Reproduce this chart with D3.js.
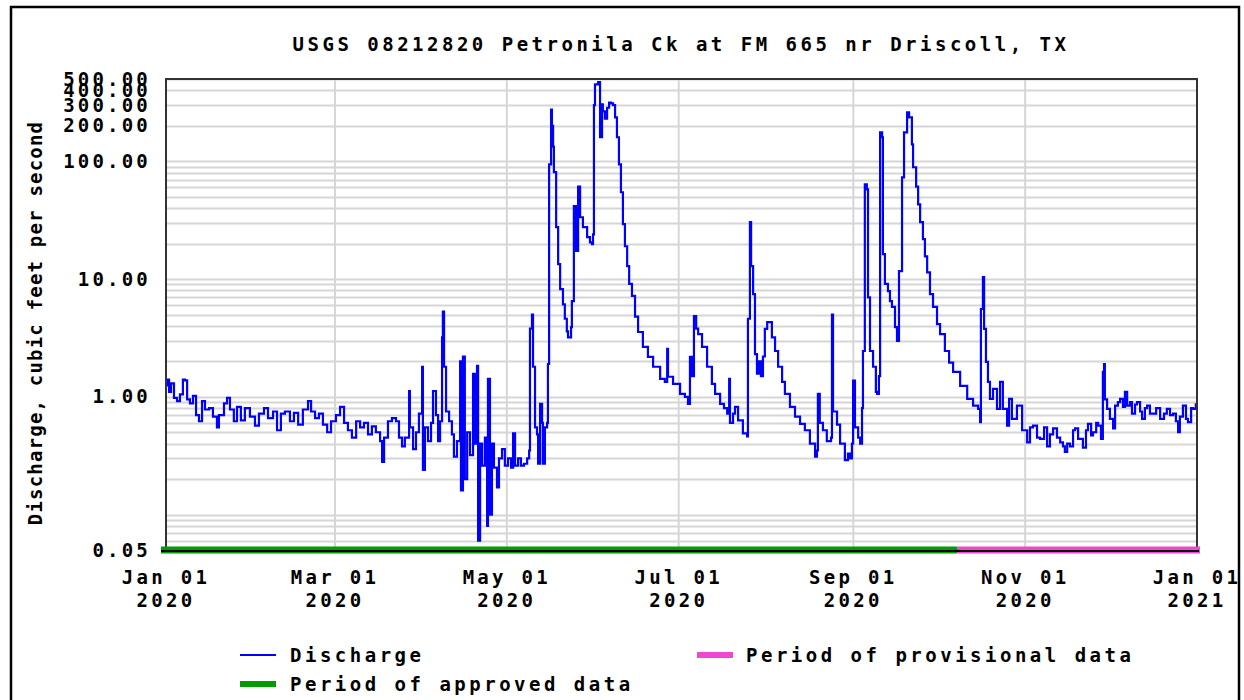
<!DOCTYPE html>
<html>
<head>
<meta charset="utf-8">
<script src="https://cdn.jsdelivr.net/npm/d3@7"></script>
<style>
  body { margin: 0; background: #fff; }
  svg text { font-family: "DejaVu Sans Mono", "Liberation Mono", monospace; font-weight: bold; fill: #000; }
</style>
</head>
<body>
<svg id="chart" width="1244" height="700"></svg>
<script>
const title = "USGS 08212820 Petronila Ck at FM 665 nr Driscoll, TX";
const yLabel = "Discharge, cubic feet per second";
const yTicks = [0.05, 1, 10, 100, 200, 300, 400, 500];
const xTicks = ["2020-01-01", "2020-03-01", "2020-05-01", "2020-07-01", "2020-09-01", "2020-11-01", "2021-01-01"];

// discharge readings (cfs)
const dates = [
  // Jan
  "2020-01-01T00","2020-01-01T08","2020-01-02T02","2020-01-02T19","2020-01-03T20","2020-01-04T22","2020-01-05T23","2020-01-07T00",
  "2020-01-07T17","2020-01-08T12","2020-01-09T12","2020-01-10T14","2020-01-11T16","2020-01-12T17","2020-01-13T19","2020-01-14T20",
  "2020-01-16T07","2020-01-17T16","2020-01-19T02","2020-01-19T19","2020-01-21T14","2020-01-22T16","2020-01-23T17","2020-01-25T02",
  "2020-01-26T05","2020-01-27T14","2020-01-29T00","2020-01-30T19",
  // Feb
  "2020-02-01T14","2020-02-03T00","2020-02-04T19","2020-02-06T05","2020-02-08T00","2020-02-09T10","2020-02-10T19","2020-02-12T05",
  "2020-02-14T00","2020-02-15T10","2020-02-16T22","2020-02-18T14","2020-02-20T10","2020-02-21T12","2020-02-22T22","2020-02-24T07",
  "2020-02-25T17","2020-02-27T05","2020-02-28T14",
  // Mar
  "2020-03-01T08","2020-03-02T19","2020-03-04T05","2020-03-05T14","2020-03-07T00","2020-03-08T12","2020-03-09T22","2020-03-11T07",
  "2020-03-12T17","2020-03-14T02","2020-03-15T12","2020-03-17T00","2020-03-17T17","2020-03-18T10","2020-03-19T19","2020-03-21T05",
  "2020-03-22T16","2020-03-23T17","2020-03-24T19","2020-03-25T19","2020-03-27T07","2020-03-27T14","2020-03-28T17","2020-03-29T18",
  "2020-03-30T19","2020-03-31T22",
  // Apr
  "2020-04-01T05","2020-04-01T22","2020-04-03T00","2020-04-04T02","2020-04-04T19","2020-04-05T20","2020-04-06T14","2020-04-07T07",
  "2020-04-08T00","2020-04-08T07","2020-04-08T17","2020-04-09T10","2020-04-10T12","2020-04-11T12","2020-04-12T05","2020-04-13T07",
  "2020-04-14T10","2020-04-14T17","2020-04-15T10","2020-04-16T02","2020-04-16T22","2020-04-17T22","2020-04-19T00","2020-04-19T17",
  "2020-04-20T10","2020-04-20T19","2020-04-21T12","2020-04-22T05","2020-04-23T05","2020-04-24T00","2020-04-24T07","2020-04-25T00",
  "2020-04-25T17","2020-04-26T10","2020-04-27T12","2020-04-28T05","2020-04-29T07","2020-04-30T07",
  // May
  "2020-05-01T10","2020-05-02T12","2020-05-03T05","2020-05-03T22","2020-05-05T00","2020-05-06T00","2020-05-07T02","2020-05-08T05",
  "2020-05-08T22","2020-05-09T05","2020-05-09T22","2020-05-10T07","2020-05-11T00","2020-05-11T17","2020-05-12T02","2020-05-12T19",
  "2020-05-13T12","2020-05-13T19","2020-05-14T12","2020-05-15T07","2020-05-15T14","2020-05-16T00","2020-05-16T17","2020-05-17T00",
  "2020-05-17T10","2020-05-17T17","2020-05-18T12","2020-05-19T05","2020-05-19T22","2020-05-20T22","2020-05-21T14","2020-05-22T07",
  "2020-05-22T17","2020-05-23T19","2020-05-24T02","2020-05-24T19","2020-05-25T14","2020-05-26T07","2020-05-27T00","2020-05-28T00",
  "2020-05-29T12","2020-05-30T12","2020-05-31T05","2020-05-31T14","2020-05-31T22",
  // Jun
  "2020-06-01T07","2020-06-02T10","2020-06-03T02","2020-06-03T19","2020-06-04T02","2020-06-04T19","2020-06-05T14","2020-06-06T07",
  "2020-06-07T00","2020-06-07T17","2020-06-08T10","2020-06-09T02","2020-06-09T19","2020-06-10T12","2020-06-11T05","2020-06-11T22",
  "2020-06-12T17","2020-06-13T10","2020-06-14T10","2020-06-15T12","2020-06-16T14","2020-06-18T07","2020-06-20T02","2020-06-21T22",
  "2020-06-24T10","2020-06-26T02","2020-06-26T22","2020-06-27T05","2020-06-29T00",
  // Jul
  "2020-07-01T12","2020-07-03T05","2020-07-04T07","2020-07-05T00","2020-07-05T17","2020-07-06T10","2020-07-07T05","2020-07-07T22",
  "2020-07-09T07","2020-07-11T02","2020-07-12T19","2020-07-13T22","2020-07-15T17","2020-07-17T02","2020-07-18T05","2020-07-18T22",
  "2020-07-19T05","2020-07-20T07","2020-07-21T00","2020-07-22T02","2020-07-23T19","2020-07-25T07","2020-07-25T14","2020-07-26T07",
  "2020-07-26T17","2020-07-27T10","2020-07-28T02","2020-07-28T19","2020-07-29T12","2020-07-30T05","2020-07-30T22","2020-07-31T14",
  // Aug
  "2020-08-01T10","2020-08-03T02","2020-08-04T05","2020-08-05T07","2020-08-06T17","2020-08-07T17","2020-08-09T12","2020-08-11T07",
  "2020-08-13T02","2020-08-14T19","2020-08-16T14","2020-08-18T10","2020-08-19T02","2020-08-19T10","2020-08-20T02","2020-08-21T05",
  "2020-08-22T14","2020-08-24T02","2020-08-24T10","2020-08-24T19","2020-08-26T05","2020-08-27T07","2020-08-28T07","2020-08-29T00",
  "2020-08-30T02","2020-08-30T19","2020-08-31T12","2020-08-31T22",
  // Sep
  "2020-09-01T14","2020-09-02T17","2020-09-03T10","2020-09-04T02","2020-09-04T10","2020-09-05T02","2020-09-05T19","2020-09-06T05",
  "2020-09-06T22","2020-09-08T00","2020-09-09T00","2020-09-09T10","2020-09-10T02","2020-09-10T12","2020-09-11T05","2020-09-11T12",
  "2020-09-12T05","2020-09-13T07","2020-09-14T00","2020-09-14T17","2020-09-15T19","2020-09-16T12","2020-09-17T05","2020-09-18T07",
  "2020-09-19T00","2020-09-20T02","2020-09-20T19","2020-09-21T19","2020-09-22T05","2020-09-23T07","2020-09-24T00","2020-09-24T17",
  "2020-09-25T17","2020-09-26T10","2020-09-27T05","2020-09-28T05","2020-09-29T07","2020-09-30T17",
  // Oct
  "2020-10-01T19","2020-10-03T12","2020-10-05T00","2020-10-06T10","2020-10-08T22","2020-10-11T10","2020-10-13T12","2020-10-15T07",
  "2020-10-16T00","2020-10-16T07","2020-10-17T00","2020-10-17T10","2020-10-18T02","2020-10-18T19","2020-10-19T12","2020-10-20T14",
  "2020-10-22T00","2020-10-23T02","2020-10-24T02","2020-10-25T14","2020-10-26T07","2020-10-27T07","2020-10-29T02","2020-10-30T22",
  // Nov
  "2020-11-01T17","2020-11-02T17","2020-11-03T19","2020-11-05T05","2020-11-06T07","2020-11-07T17","2020-11-08T19","2020-11-09T19",
  "2020-11-10T22","2020-11-12T07","2020-11-13T10","2020-11-14T10","2020-11-15T02","2020-11-15T22","2020-11-16T22","2020-11-18T00",
  "2020-11-18T17","2020-11-19T19","2020-11-20T12","2020-11-21T12","2020-11-22T14","2020-11-23T07","2020-11-24T10","2020-11-25T02",
  "2020-11-26T05","2020-11-26T22","2020-11-27T22","2020-11-28T14","2020-11-29T00","2020-11-29T07","2020-11-30T02",
  // Dec
  "2020-12-01T02","2020-12-02T05","2020-12-02T22","2020-12-03T22","2020-12-04T17","2020-12-05T17","2020-12-06T10","2020-12-07T05",
  "2020-12-08T05","2020-12-08T22","2020-12-10T00","2020-12-10T17","2020-12-11T19","2020-12-12T12","2020-12-13T12","2020-12-14T07",
  "2020-12-15T07","2020-12-16T10","2020-12-17T12","2020-12-18T22","2020-12-20T07","2020-12-21T07","2020-12-22T10","2020-12-23T12",
  "2020-12-24T12","2020-12-25T07","2020-12-25T22","2020-12-27T00","2020-12-28T02","2020-12-28T19","2020-12-29T22","2020-12-30T14",
  "2020-12-31T14"
];

const flows = [
  // Jan
  1.25, 1.40, 1.10, 1.30, 0.98, 0.92, 1.05, 1.40,
  1.38, 0.95, 0.88, 1.02, 0.70, 0.62, 0.92, 0.78,
  0.80, 0.68, 0.55, 0.70, 0.88, 0.98, 0.78, 0.62,
  0.82, 0.63, 0.80, 0.68,
  // Feb
  0.57, 0.72, 0.80, 0.66, 0.75, 0.52, 0.72, 0.75,
  0.62, 0.73, 0.58, 0.78, 0.92, 0.75, 0.66, 0.72,
  0.58, 0.50, 0.62,
  // Mar
  0.70, 0.82, 0.60, 0.52, 0.45, 0.62, 0.55, 0.60,
  0.48, 0.56, 0.50, 0.42, 0.28, 0.45, 0.62, 0.66,
  0.62, 0.45, 0.38, 0.45, 1.12, 0.55, 0.36, 0.50,
  0.72, 1.80,
  // Apr
  0.24, 0.55, 0.42, 0.60, 1.12, 0.70, 0.42, 0.62,
  3.20, 5.30, 1.80, 0.75, 0.62, 0.48, 0.31, 0.42,
  2.00, 0.16, 2.20, 0.20, 0.50, 0.32, 1.57, 0.40,
  1.83, 0.06, 0.40, 0.26, 0.45, 0.08, 1.42, 0.10,
  0.40, 0.25, 0.17, 0.30, 0.36, 0.26,
  // May
  0.30, 0.25, 0.49, 0.26, 0.30, 0.26, 0.27, 0.30,
  0.35, 3.80, 5.00, 1.80, 0.55, 0.48, 0.27, 0.87,
  0.60, 0.27, 0.55, 0.60, 1.90, 94, 275, 200,
  133, 81, 27.6, 13.4, 8.2, 6.1, 4.6, 3.6,
  3.2, 3.9, 6.5, 41.6, 17.3, 61, 33.5, 27.6,
  22.7, 20.5, 19.8, 24, 300,
  // Jun
  450, 470, 160, 305, 265, 230, 285, 315,
  310, 300, 236, 160, 94, 54.6, 29.3, 19,
  12.9, 9.1, 7.2, 4.8, 3.55, 2.65, 2.18, 1.80,
  1.42, 1.34, 2.55, 1.48, 1.29,
  // Jul
  1.06, 1.00, 0.87, 2.18, 1.50, 4.85, 3.80, 3.40,
  2.65, 1.80, 1.29, 1.06, 0.87, 0.80, 0.72, 1.42,
  0.60, 0.72, 0.82, 0.63, 0.49, 0.46, 4.6, 30.4,
  12.9, 7.45, 2.3, 1.57, 2.0, 1.50, 2.2, 3.77,
  // Aug
  4.3, 3.2, 2.45, 1.80, 1.34, 1.06, 0.82, 0.68,
  0.59, 0.52, 0.40, 0.31, 0.35, 1.06, 0.60, 0.52,
  0.42, 0.45, 5.0, 0.75, 0.58, 0.40, 0.40, 0.29,
  0.33, 0.30, 0.40, 1.37,
  // Sep
  0.55, 0.45, 0.40, 0.80, 2.45, 63.7, 57.8, 7.0,
  2.45, 1.80, 1.10, 1.06, 1.50, 176, 160, 16.3,
  9.1, 7.9, 6.5, 5.8, 3.9, 2.98, 11.7, 73,
  176, 260, 236, 139, 89, 61, 43, 30.4,
  21.8, 15.6, 11.4, 7.45, 5.8, 4.15,
  // Oct
  3.4, 2.45, 1.95, 1.63, 1.24, 0.96, 0.84, 0.79,
  0.61, 5.57, 10.4, 3.77, 1.98, 1.34, 0.96, 1.17,
  0.79, 1.34, 0.79, 0.57, 0.96, 0.65, 0.84, 0.52,
  // Nov
  0.41, 0.55, 0.57, 0.45, 0.44, 0.55, 0.38, 0.48,
  0.54, 0.45, 0.41, 0.38, 0.34, 0.40, 0.38, 0.52,
  0.54, 0.44, 0.44, 0.37, 0.52, 0.59, 0.47, 0.50,
  0.60, 0.57, 0.44, 1.63, 1.90, 0.95, 0.79,
  // Dec
  0.65, 0.54, 0.84, 0.90, 0.96, 0.82, 1.10, 0.84,
  0.90, 0.72, 0.86, 0.90, 0.75, 0.65, 0.80, 0.84,
  0.72, 0.72, 0.80, 0.65, 0.72, 0.79, 0.70, 0.72,
  0.62, 0.50, 0.68, 0.84, 0.65, 0.61, 0.80, 0.79,
  0.88
];

// data-quality periods
const periodNames = ["Period of approved data", "Period of provisional data"];
const periodStart = ["2020-01-01", "2020-10-08"];
const periodEnd = ["2020-10-08", "2021-01-01"];

const seriesName = "Discharge";
const lineColor = "#0000ff";
const periodColors = ["#009c00", "#f046d2"];

const svg = d3.select("#chart");
const plot = { left: 166, right: 1197, top: 79, bottom: 550 };
const parseHour = d3.timeParse("%Y-%m-%dT%H");
const parseDay = d3.timeParse("%Y-%m-%d");

const x = d3.scaleTime()
  .domain([parseDay(xTicks[0]), parseDay(xTicks[xTicks.length - 1])])
  .range([plot.left, plot.right]);
const y = d3.scaleLog()
  .domain([0.05, 500])
  .range([plot.bottom, plot.top]);

const readings = dates.map((d, i) => ({ t: parseHour(d), v: flows[i] }));

// outer frame
svg.append("rect")
  .attr("x", 11).attr("y", 7)
  .attr("width", 1228).attr("height", 720)
  .attr("fill", "none")
  .attr("stroke", "#000")
  .attr("stroke-width", 2.5);

// title
svg.append("text")
  .attr("x", 681).attr("y", 51)
  .attr("text-anchor", "middle")
  .attr("letter-spacing", 3.5)
  .style("font-size", "19px")
  .text(title);

// grid
const grid = svg.append("g");
grid.selectAll("line.h")
  .data(y.ticks())
  .join("line")
  .attr("class", "h")
  .attr("x1", plot.left).attr("x2", plot.right)
  .attr("y1", d => Math.round(y(d)) + 0.5)
  .attr("y2", d => Math.round(y(d)) + 0.5)
  .attr("stroke", "#d6d6d6")
  .attr("stroke-width", 2);

grid.selectAll("line.v")
  .data(xTicks.map(parseDay))
  .join("line")
  .attr("class", "v")
  .attr("x1", d => x(d)).attr("x2", d => x(d))
  .attr("y1", plot.top).attr("y2", plot.bottom)
  .attr("stroke", "#d6d6d6")
  .attr("stroke-width", 2);

// discharge line
svg.append("clipPath").attr("id", "clip")
  .append("rect")
  .attr("x", plot.left).attr("y", plot.top)
  .attr("width", plot.right - plot.left)
  .attr("height", plot.bottom - plot.top);

const line = d3.line()
  .x(d => x(d.t))
  .y(d => y(d.v))
  .curve(d3.curveStepAfter);

svg.append("path")
  .datum(readings)
  .attr("clip-path", "url(#clip)")
  .attr("fill", "none")
  .attr("stroke", lineColor)
  .attr("stroke-width", 2.2)
  .attr("d", line);

// plot frame
svg.append("rect")
  .attr("x", plot.left).attr("y", plot.top)
  .attr("width", plot.right - plot.left)
  .attr("height", plot.bottom - plot.top)
  .attr("fill", "none")
  .attr("stroke", "#333")
  .attr("stroke-width", 2);

// approved / provisional bars along the bottom
svg.selectAll("rect.period")
  .data(periodNames)
  .join("rect")
  .attr("class", "period")
  .attr("x", (d, i) => x(parseDay(periodStart[i])) - (i === 0 ? 5 : 0))
  .attr("width", (d, i) => x(parseDay(periodEnd[i])) - x(parseDay(periodStart[i])) + (i === 0 ? 5 : 3))
  .attr("y", plot.bottom - 3.5)
  .attr("height", 7)
  .attr("fill", (d, i) => periodColors[i]);

svg.append("line")
  .attr("x1", plot.left - 5).attr("x2", plot.right + 2)
  .attr("y1", plot.bottom + 1).attr("y2", plot.bottom + 1)
  .attr("stroke", "#000")
  .attr("stroke-width", 2);

// y tick labels
svg.append("g")
  .selectAll("text")
  .data(yTicks)
  .join("text")
  .attr("x", 151)
  .attr("y", d => y(d) + 6.5)
  .attr("text-anchor", "end")
  .attr("letter-spacing", 3.2)
  .style("font-size", "19px")
  .text(d => d3.format(".2f")(d));

// x tick labels (two lines)
const fmtDay = d3.timeFormat("%b %d");
const fmtYear = d3.timeFormat("%Y");
const xLab = svg.append("g")
  .selectAll("text")
  .data(xTicks.map(parseDay))
  .join("text")
  .attr("text-anchor", "middle")
  .attr("letter-spacing", 3.3)
  .style("font-size", "19px");
xLab.append("tspan")
  .attr("x", d => x(d))
  .attr("y", 584)
  .text(d => fmtDay(d));
xLab.append("tspan")
  .attr("x", d => x(d))
  .attr("y", 607)
  .text(d => fmtYear(d));

// y axis title
svg.append("text")
  .attr("transform", "translate(42,323) rotate(-90)")
  .attr("text-anchor", "middle")
  .attr("letter-spacing", 1.2)
  .style("font-size", "19px")
  .text(yLabel);

// legend
const legend = svg.append("g").attr("class", "legend");
legend.append("line")
  .attr("x1", 240).attr("x2", 276)
  .attr("y1", 655).attr("y2", 655)
  .attr("stroke", lineColor)
  .attr("stroke-width", 2);
legend.append("text")
  .attr("x", 290).attr("y", 662)
  .attr("letter-spacing", 3.5)
  .style("font-size", "19px")
  .text(seriesName);

const swatchPos = [[240, 684, 290, 691], [697, 655, 746, 662]];
periodNames.forEach((name, i) => {
  const [sx, sy, tx, ty] = swatchPos[i];
  legend.append("rect")
    .attr("x", sx).attr("y", sy - 3)
    .attr("width", 36).attr("height", 6)
    .attr("fill", periodColors[i]);
  legend.append("text")
    .attr("x", tx).attr("y", ty)
    .attr("letter-spacing", 3.5)
    .style("font-size", "19px")
    .text(name);
});
</script>
</body>
</html>
